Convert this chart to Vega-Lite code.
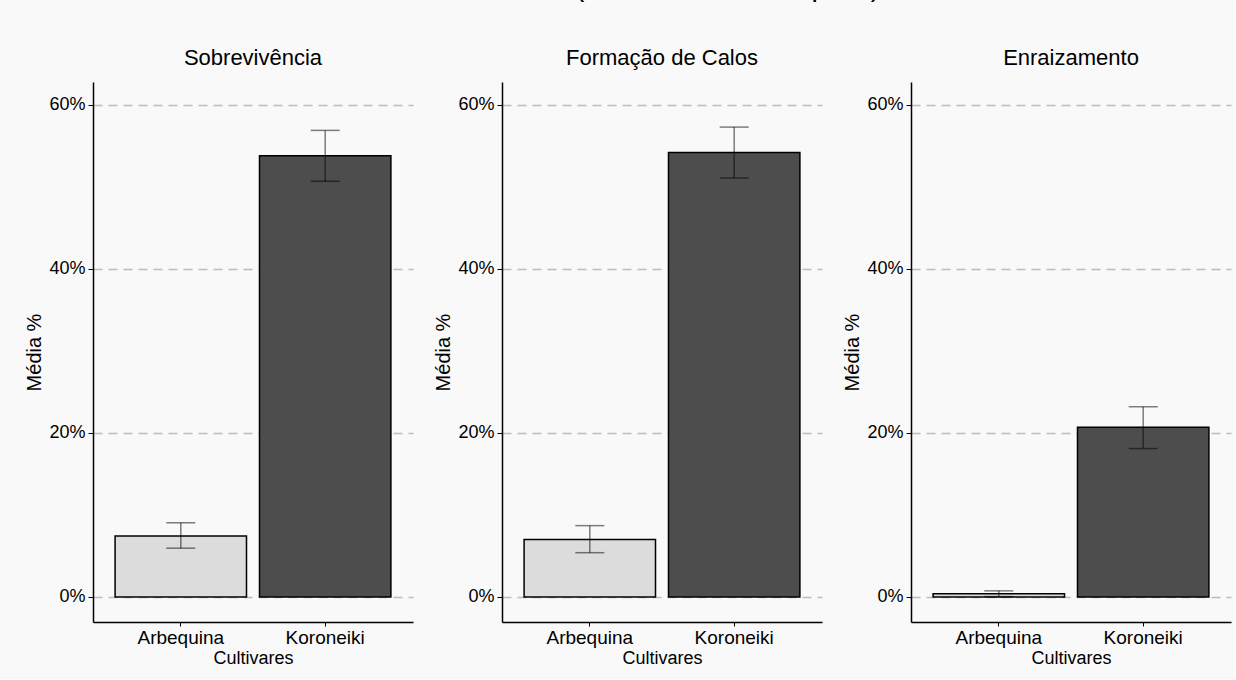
{
  "$schema": "https://vega.github.io/schema/vega-lite/v6.json",
  "background": "#f9f9f9",
  "padding": {"left": 24, "top": -26, "right": 4, "bottom": 12},
  "title": {"text": "Estacas de Oliveira (Koroneiki vs Arbequina)", "fontSize": 28, "font": "Liberation Sans", "fontWeight": "normal", "color": "#000", "anchor": "middle", "offset": 45, "dx": -25},
  "data": {"values": [
    {"indicador": "Sobrevivência", "cultivar": "Arbequina", "media": 7.45, "inf": 5.95, "sup": 9.05},
    {"indicador": "Sobrevivência", "cultivar": "Koroneiki", "media": 53.8, "inf": 50.7, "sup": 56.9},
    {"indicador": "Formação de Calos", "cultivar": "Arbequina", "media": 7.0, "inf": 5.4, "sup": 8.7},
    {"indicador": "Formação de Calos", "cultivar": "Koroneiki", "media": 54.2, "inf": 51.1, "sup": 57.3},
    {"indicador": "Enraizamento", "cultivar": "Arbequina", "media": 0.4, "inf": 0.05, "sup": 0.75},
    {"indicador": "Enraizamento", "cultivar": "Koroneiki", "media": 20.7, "inf": 18.1, "sup": 23.2}
  ]},
  "facet": {"column": {"field": "indicador", "type": "nominal", "sort": ["Sobrevivência", "Formação de Calos", "Enraizamento"], "title": null,
    "header": {"labelFontSize": 22, "labelFont": "Liberation Sans", "labelColor": "#000", "labelPadding": 12}}},
  "spacing": 20,
  "resolve": {"axis": {"y": "independent", "x": "independent"}},
  "config": {"view": {"stroke": null}, "font": "Liberation Sans"},
  "spec": {
    "width": 320,
    "height": 540,
    "encoding": {
      "x": {"field": "cultivar", "type": "nominal", "title": "Cultivares",
        "scale": {"paddingInner": 0.09, "paddingOuter": 0.153},
        "axis": {"labelAngle": 0, "labelFontSize": 19, "labelColor": "#000", "titleFontSize": 18, "titleFontWeight": "normal", "titleColor": "#000", "domainColor": "#000", "domainWidth": 1.5, "tickColor": "#000", "tickSize": 4, "labelPadding": 2, "titlePadding": 2}}
    },
    "layer": [
      {
        "mark": {"type": "bar", "stroke": "#000", "strokeWidth": 1.5},
        "encoding": {
          "y": {"field": "media", "type": "quantitative", "title": "Média %",
            "scale": {"domain": [-3.05, 62.8], "nice": false, "zero": false},
            "axis": {"values": [0, 20, 40, 60], "labelExpr": "datum.value + '%'", "labelFontSize": 18, "labelColor": "#000", "titleFontSize": 20, "titleFontWeight": "normal", "titleColor": "#000", "domainColor": "#000", "domainWidth": 1.5, "tickColor": "#000", "tickSize": 5, "labelPadding": 3, "titlePadding": 4, "grid": true, "gridDash": [9, 6], "gridColor": "#bdbdbd", "gridWidth": 1.3}},
          "fill": {"field": "cultivar", "type": "nominal", "legend": null, "scale": {"domain": ["Arbequina", "Koroneiki"], "range": ["#dcdcdc", "#4d4d4d"]}}
        }
      },
      {
        "mark": {"type": "errorbar", "ticks": true, "size": 29, "thickness": 1.5, "color": "#000", "opacity": 0.5},
        "encoding": {
          "y": {"field": "inf", "type": "quantitative", "title": "Média %"},
          "y2": {"field": "sup"}
        }
      }
    ]
  }
}
